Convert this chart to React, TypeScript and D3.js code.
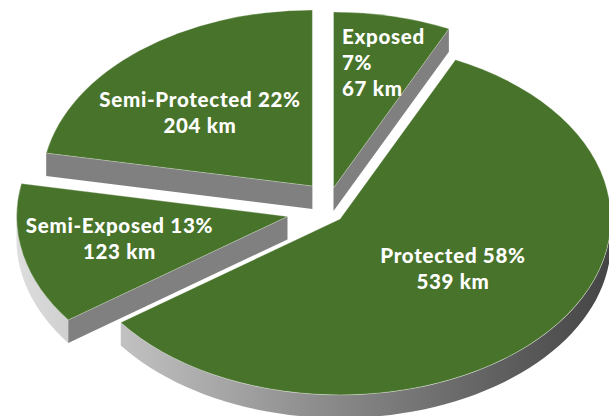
import React from 'react';
import * as d3 from 'd3';

// values
const categories = ['Exposed', 'Protected', 'Semi-Exposed', 'Semi-Protected'];
const shares = [7, 58, 13, 22];
const labelLines = [
  ['Exposed', '7%', '67 km'],
  ['Protected 58%', '539 km'],
  ['Semi-Exposed 13%', '123 km'],
  ['Semi-Protected 22%', '204 km'],
];

// where each exploded slice has its tip
const apexX = [333.5, 340, 287.5, 312.4];
const apexY = [188, 219, 216.5, 186];
const labelX = [342, 453, 119.5, 200];
const labelY = [44, 263, 232.5, 107];
const labelAnchor = ['start', 'middle', 'middle', 'middle'];

const width = 609;
const height = 416;
const rx = 271;
const ry = 176;
const depth = 23;
const lineGap = 26;

const green = '#48732a';
const wallGrey = '#808080';

export default function App() {
  const pie = d3
    .pie<number>()
    .sort(null)
    .startAngle(0)
    .endAngle(2 * Math.PI);
  const slices = pie(shares);

  const px = (i: number, a: number) => apexX[i] + rx * Math.sin(a);
  const py = (i: number, a: number) => apexY[i] - ry * Math.cos(a);

  const rim = (i: number, a0: number, a1: number) => {
    const angles = d3.range(0, 61).map((k) => a0 + ((a1 - a0) * k) / 60);
    return d3
      .area<number>()
      .x((a) => px(i, a))
      .y0((a) => py(i, a))
      .y1((a) => py(i, a) + depth)(angles);
  };

  // top face, a unit d3 arc squashed to the ellipse
  const unitArc = d3.arc<d3.PieArcDatum<number>>().innerRadius(0).outerRadius(1);

  const wall = (i: number, a: number) => {
    const line = d3.line();
    return line([
      [apexX[i], apexY[i]],
      [px(i, a), py(i, a)],
      [px(i, a), py(i, a) + depth],
      [apexX[i], apexY[i] + depth],
    ]) + 'Z';
  };

  return (
    <svg
      width={width}
      height={height}
      style={{ position: 'absolute', left: 0, top: 0, display: 'block' }}
      fontFamily="Lato"
      fontWeight={900}
      fontSize={20.5}
      letterSpacing={0.7}
    >
      <defs>
        <linearGradient id="rimFill" gradientUnits="userSpaceOnUse" x1={0} x2={width} y1={0} y2={0}>
          <stop offset="0" stopColor="#e2e2e2" />
          <stop offset="0.5" stopColor="#909090" />
          <stop offset="1" stopColor="#454545" />
        </linearGradient>
      </defs>

      {slices.map((s, i) => {
        // only the front half of the outer edge shows
        const a0 = Math.max(s.startAngle, Math.PI / 2);
        const a1 = Math.min(s.endAngle, (3 * Math.PI) / 2);
        return (
          <g key={categories[i]}>
            {a1 > a0 && <path d={rim(i, a0, a1) ?? ''} fill="url(#rimFill)" />}
            {Math.sin(s.startAngle) < -0.01 && <path d={wall(i, s.startAngle)} fill={wallGrey} />}
            {Math.sin(s.endAngle) > 0.01 && <path d={wall(i, s.endAngle)} fill={wallGrey} />}
            <path
              d={unitArc(s) ?? ''}
              transform={`translate(${apexX[i]},${apexY[i]}) scale(${rx},${ry})`}
              fill={green}
              stroke="#ffffff"
              strokeOpacity={0.45}
              strokeWidth={0.7}
              vectorEffect="non-scaling-stroke"
            />
          </g>
        );
      })}

      {labelLines.map((lines, i) => (
        <text
          key={categories[i]}
          x={labelX[i]}
          y={labelY[i]}
          fill="#ffffff"
          textAnchor={labelAnchor[i]}
        >
          {lines.map((t, j) => (
            <tspan key={j} x={labelX[i]} y={labelY[i] + j * lineGap}>
              {t}
            </tspan>
          ))}
        </text>
      ))}
    </svg>
  );
}
